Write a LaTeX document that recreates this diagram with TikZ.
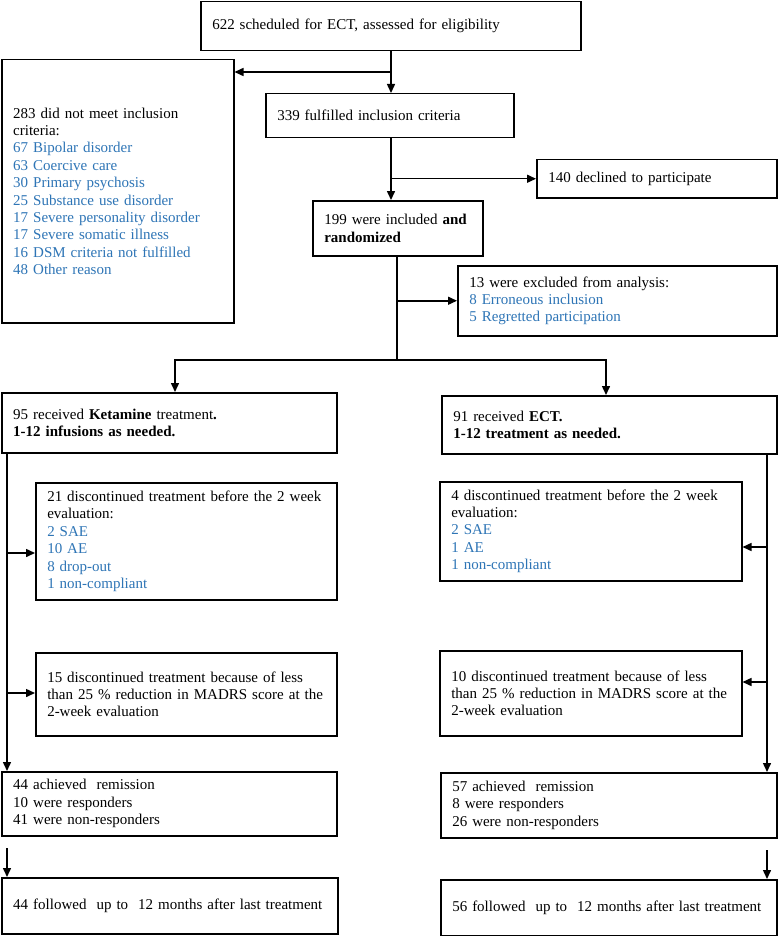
\documentclass[tikz,border=0pt]{standalone}
\usepackage{fontspec}
\setmainfont{Liberation Serif}
\usetikzlibrary{arrows.meta}
\definecolor{lblue}{RGB}{46,117,182}
\newcommand\myfs{\fontsize{15}{17.4}\selectfont}
\newcommand\bl[1]{\textcolor{lblue}{#1}}
\tikzset{
  bx/.style={draw, line width=1.5pt, anchor=north west,
    inner xsep=0pt, inner ysep=1pt, font=\myfs, minimum width=#1, text width=#1,
    execute at begin node={\raggedright\leftskip=11.5pt\relax\hyphenpenalty=10000\relax}},
  ln/.style={line width=1.5pt},
  arr/.style={line width=1.5pt, -{Triangle[length=9pt,width=8pt]}},
}
\begin{document}
\begin{tikzpicture}[x=1pt,y=-1pt]
\useasboundingbox[fill=white] (0,0) rectangle (777,936);

\node[bx=380pt, minimum height=49pt] (top) at (200,1)
  {622 scheduled for ECT, assessed for eligibility};
\node[bx=232pt, minimum height=263pt] (excl) at (1,59)
  {283 did not meet inclusion\\criteria:\\
   \bl{67 Bipolar disorder}\\\bl{63 Coercive care}\\\bl{30 Primary psychosis}\\
   \bl{25 Substance use disorder}\\\bl{17 Severe personality disorder}\\
   \bl{17 Severe somatic illness}\\\bl{16 DSM criteria not fulfilled}\\\bl{48 Other reason}};
\node[bx=248pt, minimum height=44pt] (incl) at (265,93)
  {339 fulfilled inclusion criteria};
\node[bx=240pt, minimum height=38pt] (decl) at (536,159)
  {140 declined to participate};
\node[bx=170pt, minimum height=55pt] (rand) at (312,200)
  {199 were included \textbf{and}\\\textbf{randomized}};
\node[bx=319pt, minimum height=70pt] (anal) at (457,265)
  {13 were excluded from analysis:\\\bl{8 Erroneous inclusion}\\\bl{5 Regretted participation}};
\node[bx=335pt, minimum height=60pt] (ket) at (1,392)
  {95 received \textbf{Ketamine} treatment\textbf{.}\\\textbf{1-12 infusions as needed.}};
\node[bx=335pt, minimum height=58pt] (ect) at (441,395)
  {91 received \textbf{ECT.}\\\textbf{1-12 treatment as needed.}};
\node[bx=301pt, minimum height=117pt] (kd1) at (35,482)
  {21 discontinued treatment before the 2 week\\evaluation:\\
   \bl{2 SAE}\\\bl{10 AE}\\\bl{8 drop-out}\\\bl{1 non-compliant}};
\node[bx=302pt, minimum height=99pt] (ed1) at (439,481)
  {4 discontinued treatment before the 2 week\\evaluation:\\
   \bl{2 SAE}\\\bl{1 AE}\\\bl{1 non-compliant}};
\node[bx=301pt, minimum height=83pt] (kd2) at (35,652)
  {15 discontinued treatment because of less\\than 25 \% reduction in MADRS score at the\\2-week evaluation};
\node[bx=302pt, minimum height=85pt] (ed2) at (439,650)
  {10 discontinued treatment because of less\\than 25 \% reduction in MADRS score at the\\2-week evaluation};
\node[bx=335pt, minimum height=64pt] (krem) at (1,771)
  {44 achieved\ \ remission\\10 were responders\\41 were non-responders};
\node[bx=336pt, minimum height=65pt] (erem) at (440,772)
  {57 achieved\ \ remission\\8 were responders\\26 were non-responders};
\node[bx=336pt, minimum height=56pt] (kfol) at (1,877)
  {44 followed\ \ up to\ \ 12 months after last treatment};
\node[bx=336pt, minimum height=56pt] (efol) at (440,879)
  {56 followed\ \ up to\ \ 12 months after last treatment};

% coordinates
\coordinate (sp) at (391,0);
\coordinate (j1) at (391,72);
\coordinate (sp2) at (397,0);
\coordinate (split) at (397,360);
\coordinate (kx) at (175,360);
\coordinate (ex) at (606,360);
\coordinate (ls) at (7,0);
\coordinate (ls1) at (7,553);
\coordinate (ls2) at (7,693);
\coordinate (ls3) at (7,848);
\coordinate (rs) at (767,0);
\coordinate (rs1) at (767,547);
\coordinate (rs2) at (767,682);
\coordinate (rs3) at (767,850);

% connectors
\draw[arr] (top.south -| sp) -- (incl.north -| sp);
\draw[arr] (j1) -- (j1 -| excl.east);
\draw[arr] (incl.south -| sp) -- (rand.north -| sp);
\draw[arr] (sp |- decl.west) -- (decl.west);
\draw[ln] (rand.south -| split) -- (split);
\draw[arr] (sp2 |- anal.west) -- (anal.west);
\draw[arr] (split) -- (kx) -- (kx |- ket.north);
\draw[arr] (split) -- (ex) -- (ex |- ect.north);
\draw[arr] (ket.south -| ls) -- (krem.north -| ls);
\draw[arr] (ls1) -- (ls1 -| kd1.west);
\draw[arr] (ls2) -- (ls2 -| kd2.west);
\draw[arr] (ls3) -- (ls3 |- kfol.north);
\draw[arr] (ect.south -| rs) -- (erem.north -| rs);
\draw[arr] (rs1) -- (rs1 -| ed1.east);
\draw[arr] (rs2) -- (rs2 -| ed2.east);
\draw[arr] (rs3) -- (rs3 |- efol.north);
\end{tikzpicture}
\end{document}
